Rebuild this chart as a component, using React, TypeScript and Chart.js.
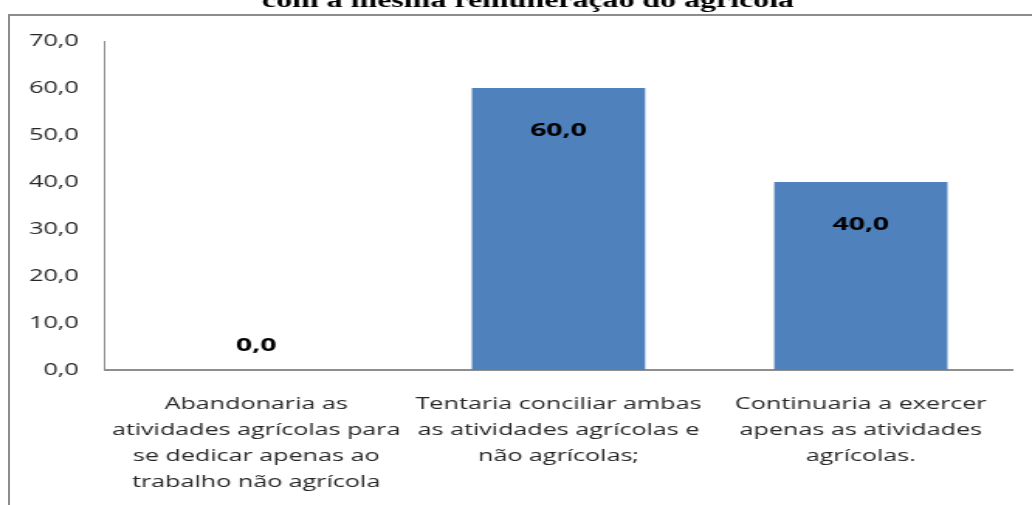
import React, { useEffect, useRef } from "react";
import { Chart, registerables } from "chart.js";

Chart.register(...registerables);

const title = "com a mesma remuneração do agrícola";
const categories: string[][] = [
  ["Abandonaria as", "atividades agrícolas para", "se dedicar apenas ao", "trabalho não agrícola"],
  ["Tentaria conciliar ambas", "as atividades agrícolas e", "não agrícolas;"],
  ["Continuaria a exercer", "apenas as atividades", "agrícolas."],
];
const values: number[] = [0, 60, 40];
const yMin = 0;
const yMax = 70;
const yStep = 10;

const W = 1032;
const H = 505;
const CW = 666; // canvas css width before horizontal stretch
const K = W / CW;
const sx = (v: number) => v / K;

const fmt = (v: number) => v.toFixed(1).replace(".", ",");

export default function App() {
  const ref = useRef<HTMLCanvasElement | null>(null);

  useEffect(() => {
    if (!ref.current) return;
    const titlePlugin = {
      id: "titleText",
      afterDraw(chart: any) {
        const ctx = chart.ctx;
        ctx.save();
        ctx.font = "bold 20.6px 'Liberation Serif'";
        ctx.fillStyle = "#000";
        ctx.textAlign = "center";
        ctx.textBaseline = "alphabetic";
        ctx.fillText(title, sx(528), 7);
        ctx.restore();
      },
    };
    const labelPlugin = {
      id: "barLabels",
      afterDatasetsDraw(chart: any) {
        const ctx = chart.ctx;
        const meta = chart.getDatasetMeta(0);
        ctx.save();
        ctx.font = "bold 18.3px 'Open Sans'";
        ctx.fillStyle = "#000";
        ctx.textAlign = "center";
        ctx.textBaseline = "middle";
        meta.data.forEach((el: any, i: number) => {
          const v = values[i];
          const y = v === 0 ? el.base - 24 : el.y + 43;
          ctx.fillText(fmt(v), el.x, y);
        });
        ctx.restore();
      },
    };
    const chart = new Chart(ref.current, {
      type: "bar",
      data: {
        labels: categories,
        datasets: [
          {
            data: values,
            backgroundColor: "#4F81BD",
            borderWidth: 0,
            barPercentage: 0.573,
            categoryPercentage: 1,
          },
        ],
      },
      options: {
        animation: false,
        responsive: true,
        maintainAspectRatio: false,
        layout: { padding: { top: 41, right: sx(1032 - 1012), left: 0, bottom: 0 } },
        plugins: { legend: { display: false }, tooltip: { enabled: false }, title: { display: false } },
        scales: {
          x: {
            grid: { display: false, drawTicks: false },
            border: { display: true, color: "#8e8e8e", width: 2 },
            ticks: {
              padding: 21,
              color: "#262626",
              maxRotation: 0,
              autoSkip: false,
              font: { family: "'Open Sans'", size: 16.2, lineHeight: "26px" },
            },
            afterFit: (s: any) => {
              s.height = H - 370;
            },
          },
          y: {
            min: yMin,
            max: yMax,
            grid: { display: false, drawTicks: false },
            border: { display: true, color: "#8e8e8e", width: 1 },
            ticks: {
              stepSize: yStep,
              padding: sx(26),
              color: "#262626",
              font: { family: "'Open Sans'", size: 16.4 },
              callback: (v: any) => fmt(Number(v)),
            },
            afterFit: (s: any) => {
              s.width = sx(105);
            },
          },
        },
      },
      plugins: [titlePlugin, labelPlugin],
    });
    return () => chart.destroy();
  }, []);

  return (
    <div
      style={{
        position: "fixed",
        left: 0,
        top: 0,
        width: W,
        height: H,
        overflow: "hidden",
        background: "#fff",
      }}
    >
      <div
        style={{
          position: "absolute",
          left: 8,
          top: 14,
          width: 1200,
          height: 700,
          border: "2px solid #8c8c8c",
          boxSizing: "border-box",
        }}
      />
      <div
        style={{
          position: "absolute",
          left: 0,
          top: 0,
          width: CW,
          height: H,
          transform: `scaleX(${K})`,
          transformOrigin: "0 0",
        }}
      >
        <canvas ref={ref} />
      </div>
    </div>
  );
}
